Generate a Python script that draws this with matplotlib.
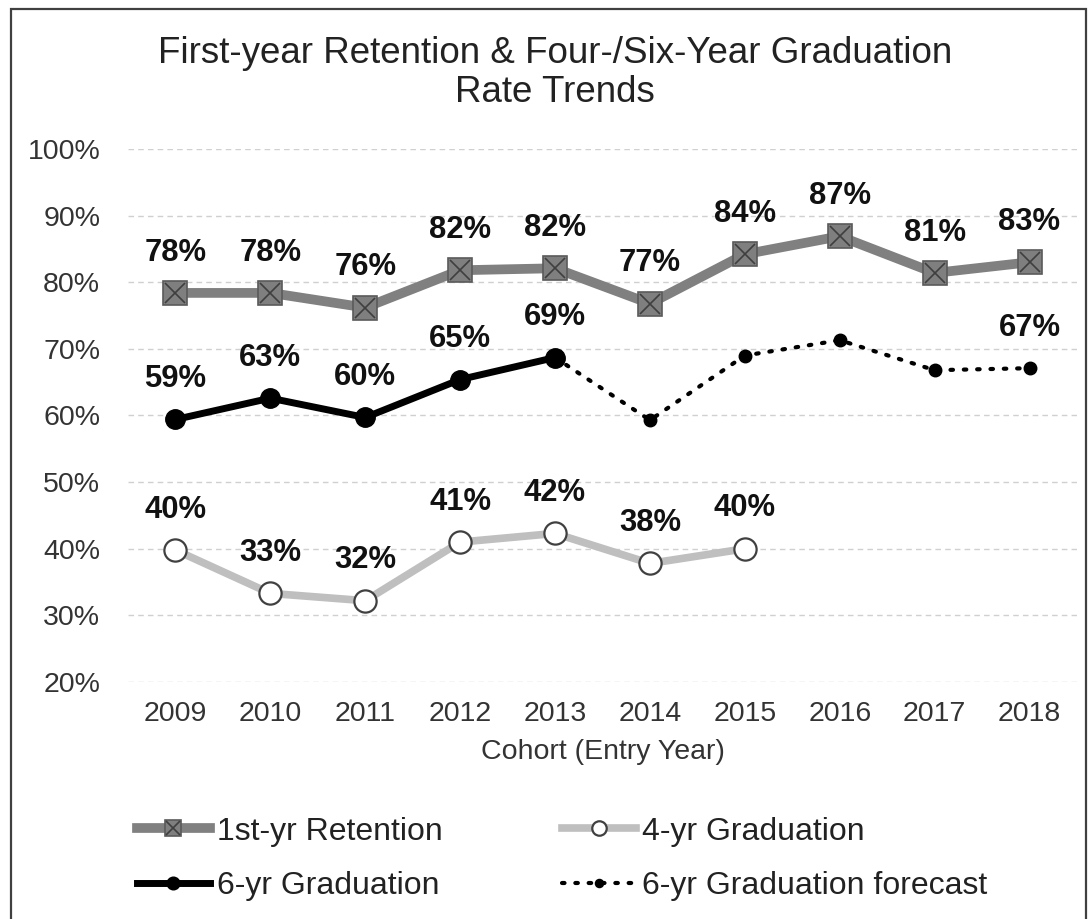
import numpy as np
import matplotlib
matplotlib.use("Agg")
import matplotlib.pyplot as plt
from matplotlib.patches import Rectangle
from matplotlib.legend_handler import HandlerTuple

plt.rcParams['font.family'] = ['Liberation Sans', 'DejaVu Sans']

# ----- Data -----
years = ["2009", "2010", "2011", "2012", "2013", "2014", "2015", "2016", "2017", "2018"]
retention = [78.4, 78.4, 76.2, 81.8, 82.1, 76.8, 84.2, 86.9, 81.4, 83.0]
grad4 = [39.8, 33.3, 32.2, 41.0, 42.3, 37.8, 40.0, np.nan, np.nan, np.nan]
grad6 = [59.4, 62.6, 59.7, 65.4, 68.7, np.nan, np.nan, np.nan, np.nan, np.nan]
grad6_forecast = [np.nan, np.nan, np.nan, np.nan, 68.7, 59.3, 69.0, 71.3, 66.8, 67.1]
forecast_labeled = [9]  # only the last forecast point carries a label

title = "First-year Retention & Four-/Six-Year Graduation\nRate Trends"
xlabel = "Cohort (Entry Year)"

# ----- Figure -----
W, H = 1089, 919
fig = plt.figure(figsize=(W / 100, H / 100), dpi=100)
ax = fig.add_axes([128 / W, 1 - 682 / H, (1077 - 128) / W, (682 - 149) / H])

x = np.arange(len(years))

ret_line, = ax.plot(x, retention, color="#808080", lw=7, marker="s", ms=17,
                    mfc="#7f7f7f", mec="#5a5a5a", mew=1.2, zorder=4)
ret_x, = ax.plot(x, retention, ls="none", marker="x", ms=15, mec="#3f3f3f",
                 mew=1.2, zorder=5)
g4_line, = ax.plot(x, grad4, color="#bfbfbf", lw=5.5, marker="o", ms=16,
                   mfc="white", mec="#404040", mew=1.6, zorder=4)
fc_line, = ax.plot(x, grad6_forecast, color="black", lw=3, ls=(0, (0.6, 2.6)),
                   dash_capstyle="round", marker="o", ms=9, mfc="black",
                   mec="black", zorder=3)
g6_line, = ax.plot(x, grad6, color="black", lw=5, marker="o", ms=14,
                   mfc="black", mec="black", zorder=6)


def label_points(values, idxs=None):
    for i, v in enumerate(values):
        if np.isnan(v) or (idxs is not None and i not in idxs):
            continue
        ax.annotate(f"{v:.0f}%", (x[i], v), xytext=(0, 29),
                    textcoords="offset points", ha="center", va="center",
                    fontsize=22.3, fontweight="bold", color="#111111", zorder=7)


label_points(retention)
label_points(grad4)
label_points(grad6)
label_points(grad6_forecast, forecast_labeled)

ax.set_xlim(-0.5, len(years) - 0.5)
ax.set_ylim(20, 100)
ax.set_yticks(np.arange(20, 101, 10))
ax.set_yticklabels([f"{t}%" for t in range(20, 101, 10)])
ax.set_xticks(x)
ax.set_xticklabels(years)
ax.tick_params(axis="both", length=0, labelsize=20.5, labelcolor="#333333")
ax.tick_params(axis="y", pad=20)
ax.tick_params(axis="x", pad=14)
ax.set_xlabel(xlabel, fontsize=20.5, color="#333333", labelpad=8)
ax.grid(axis="y", color="#d0d0d0", ls=(0, (4, 3)), lw=1)
ax.set_axisbelow(True)
for s in ax.spines.values():
    s.set_visible(False)

fig.text(555 / W, 1 - 73 / H, title, ha="center", va="center",
         fontsize=26.5, color="#222222", linespacing=1.15)

# legend fills column by column: retention/6-yr left, 4-yr/forecast right
leg = fig.legend([(ret_line, ret_x), g6_line, g4_line, fc_line],
                 ["1st-yr Retention", "6-yr Graduation", "4-yr Graduation",
                  "6-yr Graduation forecast"],
                 handler_map={tuple: HandlerTuple(ndivide=1)},
                 ncol=2, loc="center left", bbox_to_anchor=(108 / W, 1 - 859 / H),
                 frameon=False, fontsize=23, handlelength=2.3, handletextpad=0.2,
                 columnspacing=3.75, labelspacing=0.78, markerscale=0.65)
for t in leg.get_texts():
    t.set_color("#222222")

# outer chart frame
fig.patches.append(Rectangle((11 / W, -0.02), (1086 - 11) / W, 1.02 - 9 / H,
                             transform=fig.transFigure, fill=False,
                             edgecolor="#404040", lw=1.6))

fig.savefig("out.png", dpi=100, facecolor="white")
